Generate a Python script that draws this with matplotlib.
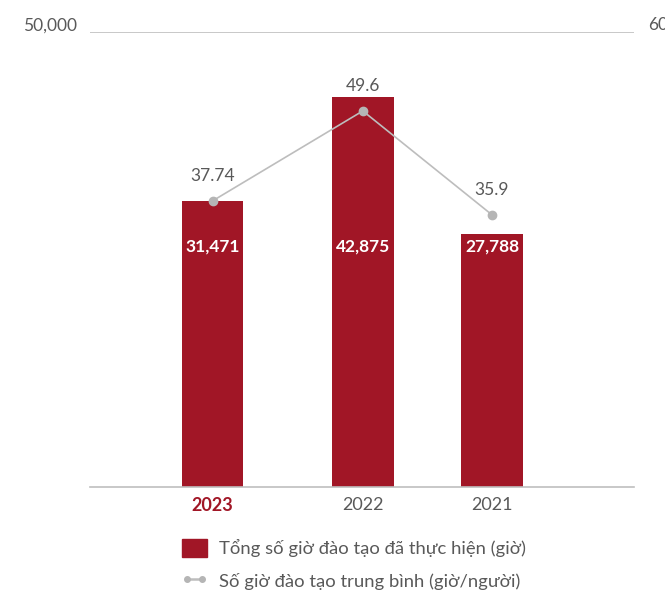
import matplotlib.pyplot as plt
from matplotlib.patches import Patch
from matplotlib.lines import Line2D
import numpy as np

plt.rcParams['font.family'] = ['Lato', 'DejaVu Sans']

# Số liệu đào tạo theo năm
nam = ['2023', '2022', '2021']
tong_gio = [31471, 42875, 27788]
gio_trung_binh = [37.74, 49.6, 35.9]

mau_cot = '#A11626'
mau_duong = '#BDBDBD'
mau_chu = '#595959'

fig = plt.figure(figsize=(6.65, 5.9), dpi=100)
ax = fig.add_axes([0.135, 0.1746, 0.818, 0.771])
x = np.array([0, 1.07, 1.99])

cot = ax.bar(x, tong_gio, width=0.44, color=mau_cot, zorder=2)
ax.set_ylim(0, 50000)
ax.set_xlim(-0.875, 3.0)
ax.set_yticks([])
ax.set_xticks(x)
ax.set_xticklabels(nam, fontsize=13, color=mau_chu)
ax.get_xticklabels()[0].set_color(mau_cot)
ax.get_xticklabels()[0].set_fontweight('bold')
ax.tick_params(axis='both', length=0, pad=7)
ax.axhline(50000, color='#BFBFBF', lw=1.2, zorder=1)
for s in ['top', 'right', 'left']:
    ax.spines[s].set_visible(False)
ax.spines['bottom'].set_color('#BFBFBF')
ax.spines['bottom'].set_linewidth(1.2)

# Nhãn trục: 50,000 bên trái, 60 bên phải, nằm hơi cao hơn đường kẻ
ax.annotate('50,000', xy=(0, 1), xycoords='axes fraction', xytext=(-9, 5),
            textcoords='offset points', ha='right', va='center',
            fontsize=12.5, color=mau_chu)
ax.annotate('60', xy=(1, 1), xycoords='axes fraction', xytext=(10, 5),
            textcoords='offset points', ha='left', va='center',
            fontsize=12.5, color=mau_chu)

# Giá trị trong cột
for xi, v in zip(x, tong_gio):
    ax.text(xi, 26400, f'{v:,}', ha='center', va='center', color='white',
            fontsize=12.5, fontweight='bold', zorder=3)

# Trục phụ cho số giờ trung bình
ax2 = ax.twinx()
ax2.set_ylim(0, 60)
ax2.set_yticks([])
for s in ['top', 'right', 'left', 'bottom']:
    ax2.spines[s].set_visible(False)
ax2.plot(x, gio_trung_binh, color=mau_duong, lw=1.2, marker='o', ms=6,
         markerfacecolor='#B5B5B5', markeredgecolor='#B5B5B5', zorder=4)
for xi, v in zip(x, gio_trung_binh):
    ax2.annotate(f'{v:g}', (xi, v), xytext=(0, 12), textcoords='offset points',
                 ha='center', va='bottom', fontsize=12.5, color=mau_chu)

handles = [
    Patch(facecolor=mau_cot, edgecolor=mau_cot),
    Line2D([0], [0], color=mau_duong, lw=1.8, marker='o', ms=4,
           markerfacecolor='#B5B5B5', markeredgecolor='#B5B5B5'),
]
labels = ['Tổng số giờ đào tạo đã thực hiện (giờ)',
          'Số giờ đào tạo trung bình (giờ/người)']
fig.legend(handles, labels, loc='upper left', bbox_to_anchor=(0.248, 0.115),
           frameon=False, fontsize=13.3, labelcolor=mau_chu, numpoints=2,
           handlelength=1.4, handleheight=1.1, handletextpad=0.65, labelspacing=0.8)

fig.savefig('out.png', dpi=100)
